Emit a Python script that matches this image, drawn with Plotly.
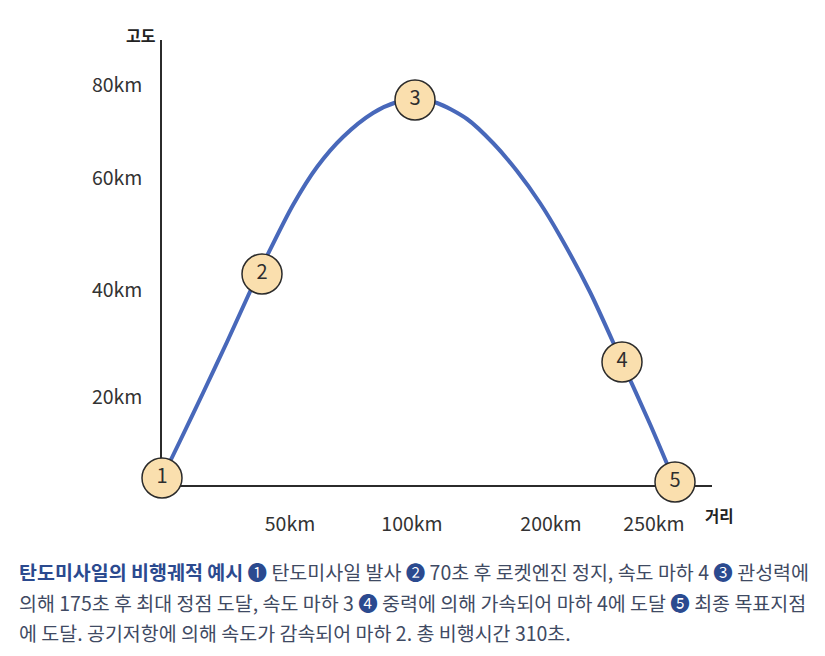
import plotly.graph_objects as go

# ---- data (schematic units) ----
traj_x = [2, 18, 41, 65, 86, 105, 131, 155, 181, 211, 235, 253, 275, 305, 331, 355, 378, 398, 428, 460, 488, 511]
traj_y = [11, 44, 92, 143, 189, 229, 280, 318, 348, 372, 383, 386, 382, 366, 342, 314, 282, 249, 193, 123, 61, 7]

event_labels = ["1", "2", "3", "4", "5"]
event_x = [0, 100, 253, 460, 513]
event_y = [7, 211, 385, 123, 3]

x_tick_labels = ["50km", "100km", "200km", "250km"]
x_tick_pos = [128, 250, 389, 492]
y_tick_labels = ["20km", "40km", "60km", "80km"]
y_tick_pos = [88, 195, 307, 400]

x_title = "거리"
y_title = "고도"

caption_title = "탄도미사일의 비행궤적 예시"
caption_lines = [
    ["❶", " 탄도미사일 발사 ", "❷", " 70초 후 로켓엔진 정지, 속도 마하 4 ", "❸", " 관성력에"],
    ["의해 175초 후 최대 정점 도달, 속도 마하 3 ", "❹", " 중력에 의해 가속되어 마하 4에 도달 ", "❺", " 최종 목표지점"],
    ["에 도달. 공기저항에 의해 속도가 감속되어 마하 2. 총 비행시간 310초."],
]

# ---- styling ----
W, H = 825, 656
L, R, T, B = 162, 113, 40, 171
FONT = "Noto Sans CJK KR, Noto Sans, sans-serif"
NAVY = "#2b4a8f"
BODY = "#3f4a63"
AXIS = "#2b2b2b"

def px_to_paper(px, py):
    return (px - L) / (W - L - R), (H - B - py) / (H - T - B)

fig = go.Figure()
fig.add_trace(go.Scatter(
    x=traj_x, y=traj_y, mode="lines",
    line=dict(color="#4868ba", width=4, shape="spline", smoothing=0.8),
    hoverinfo="skip", showlegend=False,
))
fig.add_trace(go.Scatter(
    x=event_x, y=event_y, mode="markers+text",
    text=event_labels, textposition="middle center",
    textfont=dict(family=FONT, size=20, color="#2e2e2e"),
    marker=dict(size=40, color="#fadfae", line=dict(color=AXIS, width=1.5)),
    cliponaxis=False, showlegend=False,
))

fig.update_xaxes(
    range=[0, 550], showline=True, linecolor=AXIS, linewidth=1.5,
    showgrid=False, zeroline=False, ticks="",
    tickvals=x_tick_pos, ticktext=x_tick_labels,
    tickfont=dict(family=FONT, size=19.5, color="#333333"),
    ticklabelstandoff=21, layer="below traces", fixedrange=True,
)
fig.update_yaxes(
    range=[0, 445], showline=True, linecolor=AXIS, linewidth=1.5,
    showgrid=False, zeroline=False, ticks="",
    tickvals=y_tick_pos, ticktext=y_tick_labels,
    tickfont=dict(family=FONT, size=19.5, color="#333333"),
    ticklabelstandoff=14, layer="below traces", fixedrange=True,
)

annotations = []
ax, ay = px_to_paper(141, 35)
annotations.append(dict(x=ax, y=ay, xref="paper", yref="paper", xanchor="center", yanchor="middle",
                        text=f"<b>{y_title}</b>",
                        showarrow=False, font=dict(family=FONT, size=16, color="#222222")))
ax, ay = px_to_paper(719, 515)
annotations.append(dict(x=ax, y=ay, xref="paper", yref="paper", xanchor="center", yanchor="middle",
                        text=f"<b>{x_title}</b>",
                        showarrow=False, font=dict(family=FONT, size=15.5, color="#222222")))

circles = set("❶❷❸❹❺")
line_y = [571, 602, 632]
for i, parts in enumerate(caption_lines):
    html = ""
    if i == 0:
        html += f"<b><span style='color:{NAVY}'>{caption_title}</span></b> "
    for p in parts:
        if p in circles:
            html += f"<span style='color:{NAVY}'>{p}</span>"
        else:
            html += p
    cx, cy = px_to_paper(17, line_y[i])
    annotations.append(dict(x=cx, y=cy, xref="paper", yref="paper", xanchor="left", yanchor="middle",
                            text=html, showarrow=False, align="left",
                            font=dict(family=FONT, size=19.5, color=BODY)))

fig.update_layout(
    width=W, height=H, margin=dict(l=L, r=R, t=T, b=B),
    paper_bgcolor="white", plot_bgcolor="white",
    annotations=annotations, showlegend=False,
)

fig.write_html("out.html")
